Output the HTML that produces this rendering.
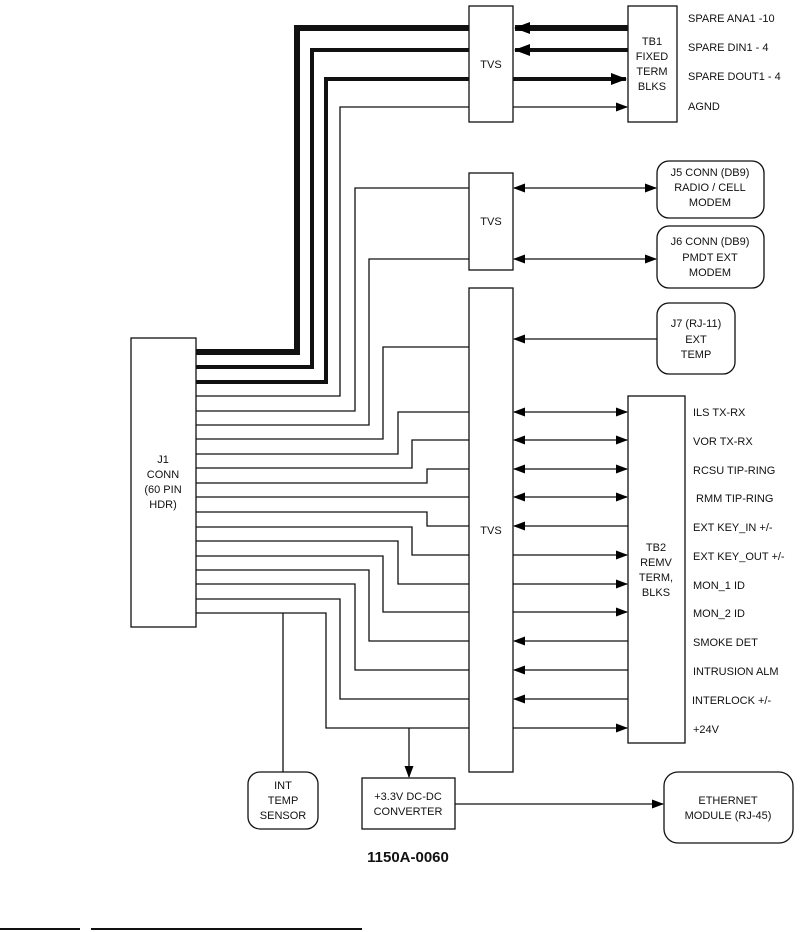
<!DOCTYPE html>
<html><head><meta charset="utf-8"><style>
html,body{margin:0;padding:0;background:#fff;}
svg{display:block;}
text{font-family:"Liberation Sans",Arial,sans-serif;font-size:11px;fill:#111;}
</style></head><body>
<svg width="809" height="932" viewBox="0 0 809 932" xmlns="http://www.w3.org/2000/svg">
<defs>
<marker id="a" markerWidth="12" markerHeight="9" refX="11" refY="4.5" orient="auto-start-reverse" markerUnits="userSpaceOnUse"><path d="M0,0 L12,4.5 L0,9 Z" fill="#000"/></marker>
<marker id="b" markerWidth="16" markerHeight="12" refX="15" refY="6" orient="auto-start-reverse" markerUnits="userSpaceOnUse"><path d="M0,0 L16,6 L0,12 Z" fill="#000"/></marker>
</defs>
<g fill="none" stroke="#111" stroke-width="1.3">
<rect x="131" y="338" width="65" height="289" fill="#fff"/>
<rect x="469" y="6" width="44" height="116" fill="#fff"/>
<rect x="628" y="6" width="49" height="116" fill="#fff"/>
<rect x="469" y="173" width="44" height="97" fill="#fff"/>
<rect x="469" y="288" width="44" height="484" fill="#fff"/>
<rect x="628" y="396" width="57" height="347" fill="#fff"/>
<rect x="657" y="161" width="107" height="57" rx="12" fill="#fff"/>
<rect x="657" y="226" width="107" height="62" rx="12" fill="#fff"/>
<rect x="657" y="303" width="78" height="71" rx="12" fill="#fff"/>
<rect x="248" y="772" width="70" height="57" rx="12" fill="#fff"/>
<rect x="362" y="778" width="93" height="51" fill="#fff"/>
<rect x="664" y="772" width="129" height="71" rx="14" fill="#fff"/>

<path d="M196,352 H297 V28 H469" stroke-width="6"/>
<path d="M196,367 H312 V50 H469" stroke-width="4"/>
<path d="M196,382 H326 V79 H469" stroke-width="4"/>
<path d="M196,396 H340 V107 H469"/>
<path d="M628,28 H515" stroke-width="6" marker-end="url(#b)"/>
<path d="M628,50 H515" stroke-width="4" marker-end="url(#b)"/>
<path d="M513,79 H626" stroke-width="4" marker-end="url(#b)"/>
<path d="M513,107 H627" marker-end="url(#a)"/>

<path d="M196,411 H355 V188 H469"/>
<path d="M196,425 H369 V259 H469"/>
<path d="M514,188 H656" marker-start="url(#a)" marker-end="url(#a)"/>
<path d="M514,259 H656" marker-start="url(#a)" marker-end="url(#a)"/>
<path d="M657,339 H514" marker-end="url(#a)"/>

<path d="M196,439 H383 V347 H469"/>
<path d="M196,454 H398 V412 H469"/>
<path d="M196,468 H412 V440 H469"/>
<path d="M196,483 H427 V469 H469"/>
<path d="M196,497 H469"/>
<path d="M196,512 H427 V526 H469"/>
<path d="M196,527 H412 V555 H469"/>
<path d="M196,541 H398 V584 H469"/>
<path d="M196,556 H383 V612 H469"/>
<path d="M196,570 H369 V641 H469"/>
<path d="M196,584 H355 V670 H469"/>
<path d="M196,599 H340 V699 H469"/>
<path d="M196,613 H326 V728 H469"/>
<path d="M283,613 V772"/>
<path d="M409,728 V777" marker-end="url(#a)"/>
<path d="M455,804 H663" marker-end="url(#a)"/>

<path d="M514,412 H627" marker-start="url(#a)" marker-end="url(#a)"/>
<path d="M514,440 H627" marker-start="url(#a)" marker-end="url(#a)"/>
<path d="M514,469 H627" marker-start="url(#a)" marker-end="url(#a)"/>
<path d="M514,497 H627" marker-start="url(#a)" marker-end="url(#a)"/>
<path d="M628,526 H514" marker-end="url(#a)"/>
<path d="M513,555 H627" marker-end="url(#a)"/>
<path d="M513,584 H627" marker-end="url(#a)"/>
<path d="M513,612 H627" marker-end="url(#a)"/>
<path d="M628,641 H514" marker-end="url(#a)"/>
<path d="M628,670 H514" marker-end="url(#a)"/>
<path d="M628,699 H514" marker-end="url(#a)"/>
<path d="M513,728 H627" marker-end="url(#a)"/>

<path d="M0,929 H80" stroke-width="2"/>
<path d="M91,929 H362" stroke-width="2"/>
</g>

<g text-anchor="middle">
<text x="163" y="463">J1</text>
<text x="163" y="478">CONN</text>
<text x="163" y="493">(60 PIN</text>
<text x="163" y="508">HDR)</text>
<text x="491" y="68">TVS</text>
<text x="491" y="225">TVS</text>
<text x="491" y="534">TVS</text>
<text x="652" y="45">TB1</text>
<text x="652" y="60">FIXED</text>
<text x="652" y="75">TERM</text>
<text x="652" y="90">BLKS</text>
<text x="656" y="551">TB2</text>
<text x="656" y="566">REMV</text>
<text x="656" y="581">TERM,</text>
<text x="656" y="596">BLKS</text>
<text x="710" y="176">J5 CONN (DB9)</text>
<text x="710" y="191">RADIO / CELL</text>
<text x="710" y="206">MODEM</text>
<text x="710" y="245">J6 CONN (DB9)</text>
<text x="710" y="261">PMDT EXT</text>
<text x="710" y="276">MODEM</text>
<text x="696" y="327">J7 (RJ-11)</text>
<text x="696" y="343">EXT</text>
<text x="696" y="358">TEMP</text>
<text x="283" y="789">INT</text>
<text x="283" y="804">TEMP</text>
<text x="283" y="819">SENSOR</text>
<text x="408" y="800">+3.3V DC-DC</text>
<text x="408" y="815">CONVERTER</text>
<text x="728" y="804">ETHERNET</text>
<text x="728" y="819">MODULE (RJ-45)</text>
<text x="408" y="862" style="font-size:15px;font-weight:bold">1150A-0060</text>
</g>
<g>
<text x="688" y="22">SPARE ANA1 -10</text>
<text x="688" y="51">SPARE DIN1 - 4</text>
<text x="688" y="80">SPARE DOUT1 - 4</text>
<text x="688" y="110">AGND</text>
<text x="693" y="416">ILS TX-RX</text>
<text x="693" y="445">VOR TX-RX</text>
<text x="693" y="474">RCSU TIP-RING</text>
<text x="696" y="502">RMM TIP-RING</text>
<text x="693" y="531">EXT KEY_IN +/-</text>
<text x="693" y="560">EXT KEY_OUT +/-</text>
<text x="693" y="589">MON_1 ID</text>
<text x="693" y="617">MON_2 ID</text>
<text x="693" y="646">SMOKE DET</text>
<text x="693" y="675">INTRUSION ALM</text>
<text x="692" y="704">INTERLOCK +/-</text>
<text x="693" y="733">+24V</text>
</g>
</svg>
</body></html>
